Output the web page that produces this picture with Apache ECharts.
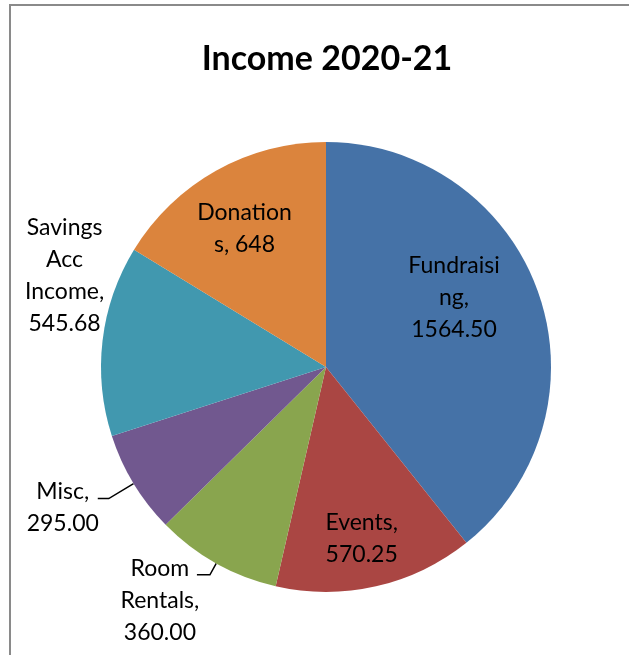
<!DOCTYPE html>
<html>
<head>
<meta charset="utf-8">
<script src="https://cdn.jsdelivr.net/npm/echarts@6/dist/echarts.min.js"></script>
<style>
  html, body { margin: 0; padding: 0; background: #ffffff; }
  #chart { width: 629px; height: 655px; }
</style>
</head>
<body>
<div id="chart"></div>
<script>
const categories = ['Fundraising', 'Events', 'Room Rentals', 'Misc', 'Savings Acc Income', 'Donations'];
const values = [1564.50, 570.25, 360.00, 295.00, 545.68, 648];
const valueLabels = ['1564.50', '570.25', '360.00', '295.00', '545.68', '648'];
// label text as wrapped in the picture
const nameLabels = ['Fundraisi\nng,\n', 'Events,\n', 'Room\nRentals,\n', 'Misc,\n', 'Savings\nAcc\nIncome,\n', 'Donation\ns, '];
const colors = ['#4572A7', '#AA4643', '#89A54E', '#71588F', '#4198AF', '#DB843D'];

// inside labels are nudged away from the half radius point
const insideShift = { 0: [19, -31], 1: [10, 59], 5: [-25, -38] };
// outside labels: leader line, gap, padding, box width
const outsideStyle = {
    2: { len: 13, len2: 13, dist: -5, pad: [52, 0, 0, 0], w: 84, line: true },
    3: { len: 29, len2: 11, dist: -1, pad: [18, 0, 0, 0], w: 72, line: true },
    4: { len: 0, len2: 0, dist: -4, pad: [0, 0, 130, 0], w: 84, line: false }
};

const chart = echarts.init(document.getElementById('chart'));

const pieData = categories.map(function (name, i) {
    const item = {
        name: name,
        value: values[i],
        itemStyle: { color: colors[i] }
    };
    const o = outsideStyle[i];
    if (o) {
        item.label = {
            position: 'outside',
            distanceToLabelLine: o.dist,
            padding: o.pad,
            rich: { c: { width: o.w, align: 'center', lineHeight: 32 } }
        };
        item.labelLine = {
            show: o.line,
            length: o.len,
            length2: o.len2,
            smooth: false,
            lineStyle: { color: '#000000', width: 1.5 }
        };
    } else {
        item.label = {
            position: 'inside',
            rich: { c: { align: 'center', lineHeight: 32 } }
        };
    }
    return item;
});

const option = {
    animation: false,
    title: {
        text: 'Income 2020-21',
        left: 322,
        textAlign: 'center',
        top: 37,
        textStyle: {
            fontFamily: 'Lato',
            fontSize: 34,
            fontWeight: 'bold',
            color: '#000000'
        }
    },
    graphic: [
        {
            type: 'rect',
            shape: { x: 10, y: 5, width: 800, height: 800 },
            style: { fill: 'none', stroke: '#8a8a8a', lineWidth: 2 },
            silent: true
        }
    ],
    series: [
        {
            type: 'pie',
            center: [326, 367],
            radius: 225,
            startAngle: 90,
            clockwise: true,
            avoidLabelOverlap: false,
            emphasis: { disabled: true },
            label: {
                show: true,
                color: '#000000',
                fontFamily: 'Lato',
                fontSize: 23,
                lineHeight: 32,
                formatter: function (p) {
                    const text = nameLabels[p.dataIndex] + valueLabels[p.dataIndex];
                    return text.split('\n').map(function (s) { return '{c|' + s + '}'; }).join('\n');
                }
            },
            labelLayout: function (p) {
                const s = insideShift[p.dataIndex];
                return s ? { dx: s[0], dy: s[1] } : {};
            },
            data: pieData
        }
    ]
};

chart.setOption(option);
</script>
</body>
</html>
